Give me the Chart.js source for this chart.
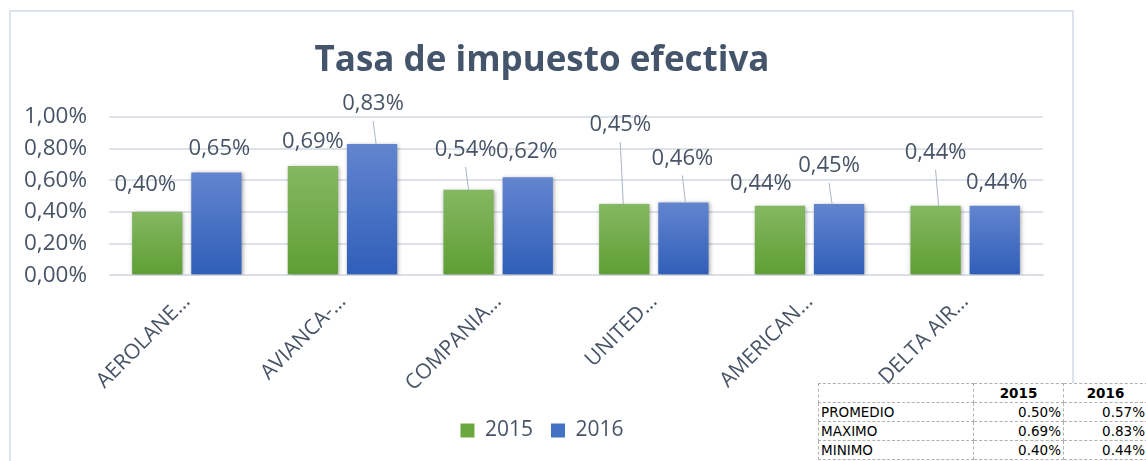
<!DOCTYPE html>
<html lang="es">
<head>
<meta charset="UTF-8" />
<title>Tasa de impuesto efectiva</title>
<script src="https://cdn.jsdelivr.net/npm/chart.js"></script>
<style>
  html, body { margin: 0; padding: 0; background: #fff; }
  body { width: 1146px; height: 461px; position: relative; overflow: hidden; }
  .frame { position: absolute; left: 9px; top: 10px; width: 1061px; height: 470px; border: 2px solid #dde3ea; }
  #chart { position: absolute; left: 0; top: 12px; }
  table.stats { position: absolute; left: 818px; top: 383px; width: 329px; table-layout: fixed;
    border-collapse: collapse; font-family: "DejaVu Sans", sans-serif; font-size: 13.5px;
    background: #fff; color: #000; }
  table.stats td { border: 1px dashed #b0b0b0; height: 18px; padding: 0 2px; line-height: 18px; white-space: nowrap; }
  table.stats td.n { text-align: right; }
  table.stats tr.h td { font-weight: bold; text-align: center; }
</style>
</head>
<body>
<div class="frame"></div>
<canvas id="chart" width="1146" height="449"></canvas>
<table class="stats">
  <colgroup><col style="width:155px"><col style="width:90px"><col style="width:84px"></colgroup>
  <tr class="h"><td></td><td>2015</td><td>2016</td></tr>
  <tr><td>PROMEDIO</td><td class="n">0.50%</td><td class="n">0.57%</td></tr>
  <tr><td>MAXIMO</td><td class="n">0.69%</td><td class="n">0.83%</td></tr>
  <tr><td>MINIMO</td><td class="n">0.40%</td><td class="n">0.44%</td></tr>
</table>
<script>
const categories = ["AEROLANE…", "AVIANCA-…", "COMPANIA…", "UNITED…", "AMERICAN…", "DELTA AIR…"];
const series2015 = [0.40, 0.69, 0.54, 0.45, 0.44, 0.44];
const series2016 = [0.65, 0.83, 0.62, 0.46, 0.45, 0.44];
const yTicks = [0, 0.2, 0.4, 0.6, 0.8, 1.0];

// where each value label sits relative to its bar top (px), like the Excel layout
const labelShift2015 = [[-12, -27], [0, -24], [-3, -40], [-4, -79], [-19, -22], [0, -53]];
const labelShift2016 = [[3, -24], [1, -40], [-1, -25], [-1, -44], [-10, -38], [2, -23]];

const textColor = "#475466";
const fontFamily = "'Open Sans', sans-serif";

const pct = (v) => v.toFixed(2).replace(".", ",") + "%";

function barGradient(top, bottom) {
  return (ctx) => {
    const chart = ctx.chart;
    if (!chart.chartArea || ctx.type !== "data") return bottom;
    const y = chart.scales.y;
    const y0 = y.getPixelForValue(ctx.raw);
    const y1 = y.getPixelForValue(0);
    const g = chart.ctx.createLinearGradient(0, y0, 0, y1);
    g.addColorStop(0, top);
    g.addColorStop(1, bottom);
    return g;
  };
}

const shadowPlugin = {
  id: "barShadow",
  beforeDatasetsDraw(chart) {
    const c = chart.ctx;
    c.save();
    c.shadowColor = "rgba(0,0,0,0.35)";
    c.shadowBlur = 4;
    c.shadowOffsetX = 1;
    c.shadowOffsetY = 1;
  },
  afterDatasetsDraw(chart) {
    chart.ctx.restore();
  },
};

const valueLabels = {
  id: "valueLabels",
  afterDatasetsDraw(chart) {
    const c = chart.ctx;
    const shifts = [labelShift2015, labelShift2016];
    c.save();
    c.font = "22px " + fontFamily;
    c.textAlign = "center";
    c.textBaseline = "middle";
    chart.data.datasets.forEach((ds, di) => {
      const meta = chart.getDatasetMeta(di);
      meta.data.forEach((bar, i) => {
        const [dx, dy] = shifts[di][i];
        const lx = bar.x + dx;
        const ly = bar.y + dy;
        if (dy < -30) {
          const half = bar.width / 2;
          const ex = Math.min(Math.max(lx + 3, bar.x - half + 2), bar.x + half - 2);
          c.strokeStyle = "#aab4c3";
          c.lineWidth = 1;
          c.beginPath();
          c.moveTo(lx, ly + 17);
          c.lineTo(ex, bar.y);
          c.stroke();
        }
        c.fillStyle = textColor;
        c.fillText(pct(ds.data[i]), lx, ly);
      });
    });
    c.restore();
  },
};

new Chart(document.getElementById("chart"), {
  type: "bar",
  data: {
    labels: categories,
    datasets: [
      {
        label: "2015",
        data: series2015,
        backgroundColor: barGradient("#84b862", "#5f9e34"),
        legendColor: "#6aa83f",
      },
      {
        label: "2016",
        data: series2016,
        backgroundColor: barGradient("#6385cf", "#2f5eb9"),
        legendColor: "#4371c4",
      },
    ],
  },
  options: {
    responsive: false,
    animation: false,
    datasets: { bar: { categoryPercentage: 0.76, barPercentage: 0.85 } },
    layout: { padding: { left: 0, right: 62, top: 0, bottom: 10 } },
    scales: {
      x: {
        grid: { display: false },
        border: { display: true, color: "#d9dee6" },
        ticks: {
          color: textColor,
          font: { family: fontFamily, size: 21 },
          maxRotation: 45,
          minRotation: 45,
          autoSkip: false,
          padding: 6,
        },
        afterFit: (scale) => {
          scale.paddingLeft = 0;
          scale.paddingRight = 103;
        },
      },
      y: {
        min: 0,
        max: 1,
        afterBuildTicks: (axis) => {
          axis.ticks = yTicks.map((v) => ({ value: v }));
        },
        afterFit: (scale) => {
          scale.width = 109;
        },
        grid: { color: "#dde2e9", lineWidth: 2, drawTicks: false },
        border: { display: false },
        ticks: {
          color: textColor,
          font: { family: fontFamily, size: 22.5 },
          padding: 22,
          callback: (v) => pct(v),
        },
      },
    },
    plugins: {
      title: {
        display: true,
        text: "Tasa de impuesto efectiva",
        color: "#44546a",
        font: { family: fontFamily, size: 35, weight: "bold" },
        padding: { top: 28, bottom: 35 },
      },
      legend: {
        position: "bottom",
        labels: {
          color: textColor,
          font: { family: fontFamily, size: 21 },
          boxWidth: 14,
          boxHeight: 14,
          padding: 18,
          generateLabels: (chart) =>
            chart.data.datasets.map((ds, i) => ({
              text: ds.label,
              fillStyle: ds.legendColor,
              strokeStyle: ds.legendColor,
              lineWidth: 0,
              fontColor: textColor,
              datasetIndex: i,
            })),
        },
      },
      tooltip: { enabled: false },
    },
  },
  plugins: [shadowPlugin, valueLabels],
});
</script>
</body>
</html>
